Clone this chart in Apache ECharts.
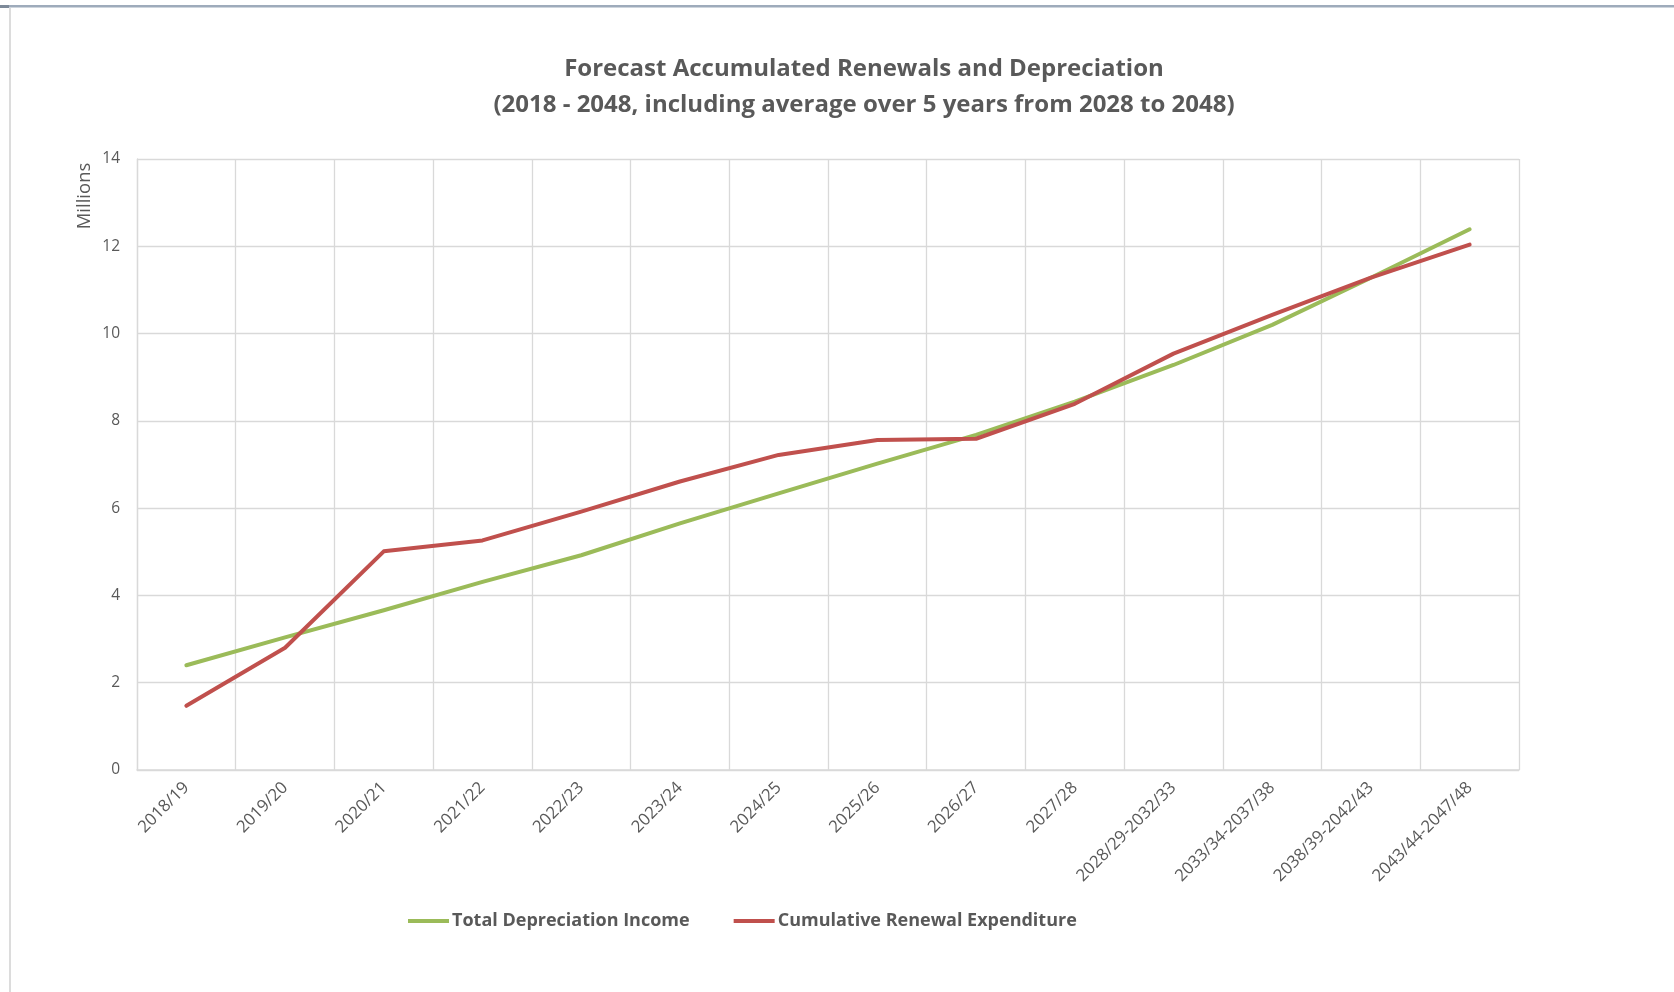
<!DOCTYPE html>
<html>
<head>
<meta charset="utf-8">
<title>Forecast Accumulated Renewals and Depreciation</title>
<script src="https://cdn.jsdelivr.net/npm/echarts@6/dist/echarts.min.js"></script>
<style>
  html, body { margin: 0; padding: 0; background: #ffffff; }
  #chart { width: 1674px; height: 992px; }
</style>
</head>
<body>
<div id="chart"></div>
<script>
// Financial years (single years, then 5-year averages)
const categories = [
  '2018/19', '2019/20', '2020/21', '2021/22', '2022/23', '2023/24', '2024/25',
  '2025/26', '2026/27', '2027/28', '2028/29-2032/33', '2033/34-2037/38',
  '2038/39-2042/43', '2043/44-2047/48'
];

// Values in millions
const depreciationIncome = [2.40, 3.04, 3.66, 4.31, 4.92, 5.65, 6.34, 7.02, 7.68, 8.44, 9.28, 10.20, 11.28, 12.39];
const renewalExpenditure = [1.47, 2.80, 5.01, 5.26, 5.92, 6.61, 7.22, 7.56, 7.59, 8.39, 9.54, 10.43, 11.28, 12.04];

const yTicks = { min: 0, max: 14, interval: 2 };

const FONT = '"Open Sans", "Noto Sans", sans-serif';
const TEXT = '#595959';
const GRID = '#d9d9d9';

const chart = echarts.init(document.getElementById('chart'), null, { renderer: 'canvas' });

chart.setOption({
  animation: false,
  backgroundColor: '#ffffff',
  textStyle: { fontFamily: FONT, color: TEXT },
  title: {
    text: 'Forecast Accumulated Renewals and Depreciation\n(2018 - 2048, including average over 5 years from 2028 to 2048)',
    left: 859,
    top: 46,
    textAlign: 'center',
    textStyle: {
      fontFamily: FONT,
      fontSize: 24,
      fontWeight: 'bold',
      color: TEXT,
      lineHeight: 36
    }
  },
  graphic: [
    // window frame edges
    { type: 'rect', shape: { x: 0, y: 5, width: 1674, height: 2.5 }, style: { fill: '#9eabbb' }, silent: true },
    { type: 'rect', shape: { x: 0, y: 5, width: 9, height: 3 }, style: { fill: '#7d8a99' }, silent: true },
    { type: 'rect', shape: { x: 9, y: 8, width: 2, height: 984 }, style: { fill: '#dcdcdc' }, silent: true },
    // value axis unit
    {
      type: 'text',
      x: 85,
      y: 196,
      rotation: Math.PI / 2,
      style: {
        text: 'Millions',
        fontFamily: FONT,
        fontSize: 18.5,
        fill: TEXT,
        align: 'center',
        verticalAlign: 'middle'
      },
      silent: true
    }
  ],
  legend: {
    left: 403,
    top: 907,
    itemWidth: 41,
    itemHeight: 4,
    itemGap: 44,
    icon: 'rect',
    textStyle: { fontFamily: FONT, fontSize: 18, fontWeight: 'bold', color: TEXT, padding: [0, 0, 0, -2] },
    data: ['Total Depreciation Income', 'Cumulative Renewal Expenditure']
  },
  grid: { left: 137, right: 155, top: 159, bottom: 222, containLabel: false },
  xAxis: {
    type: 'category',
    data: categories,
    boundaryGap: true,
    axisLine: { show: true, lineStyle: { color: GRID, width: 1.5 } },
    axisTick: { show: false },
    splitLine: { show: true, lineStyle: { color: GRID, width: 1.3 } },
    axisLabel: {
      interval: 0,
      rotate: 45,
      margin: 15,
      fontFamily: FONT,
      fontSize: 16.8,
      color: TEXT
    }
  },
  yAxis: {
    type: 'value',
    min: yTicks.min,
    max: yTicks.max,
    interval: yTicks.interval,
    axisLine: { show: true, lineStyle: { color: GRID, width: 1.3 } },
    axisTick: { show: false },
    splitLine: { show: true, lineStyle: { color: GRID, width: 1.3 } },
    axisLabel: { fontFamily: FONT, fontSize: 15.5, color: TEXT, margin: 17 }
  },
  series: [
    {
      name: 'Total Depreciation Income',
      type: 'line',
      data: depreciationIncome,
      showSymbol: false,
      symbol: 'none',
      lineStyle: { color: '#9bbb59', width: 4, cap: 'round', join: 'round' },
      itemStyle: { color: '#9bbb59' }
    },
    {
      name: 'Cumulative Renewal Expenditure',
      type: 'line',
      data: renewalExpenditure,
      showSymbol: false,
      symbol: 'none',
      lineStyle: { color: '#c0504d', width: 4, cap: 'round', join: 'round' },
      itemStyle: { color: '#c0504d' }
    }
  ]
});
</script>
</body>
</html>
